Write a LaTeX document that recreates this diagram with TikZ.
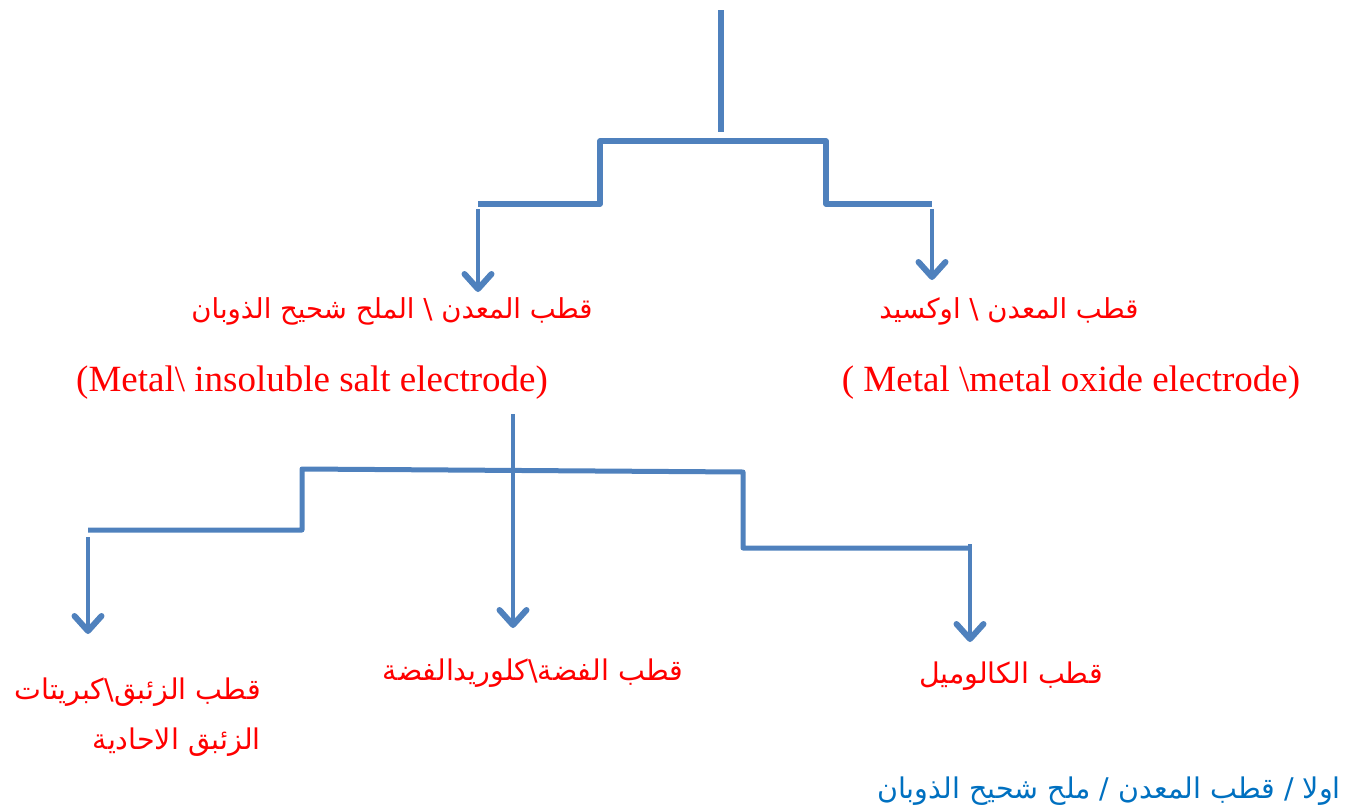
\documentclass[tikz,border=0pt]{standalone}
\usepackage{fontspec}
\setmainfont{Liberation Serif}
\newfontfamily\arabicfont[Script=Arabic]{DejaVu Sans}
\TeXXeTstate=1
\usetikzlibrary{arrows.meta}
\definecolor{lineblue}{RGB}{79,129,189}
\definecolor{txtred}{RGB}{255,0,0}
\definecolor{txtblue}{RGB}{0,112,192}
\begin{document}
\begin{tikzpicture}[x=1pt,y=-1pt,
  conn/.style={draw=lineblue,line width=5.5pt,line join=round},
  arr/.style={draw=lineblue,line width=4.5pt,-{Straight Barb[length=15pt,width=27pt,line width=6pt,round]}},
  arb/.style={text=txtred,inner sep=0pt,font=\arabicfont\fontsize{27.5}{50}\selectfont},
  arbl/.style={arb,font=\arabicfont\fontsize{28.5}{50}\selectfont},
  en/.style={text=txtred,inner sep=0pt,font=\fontsize{37}{44}\selectfont}]
\useasboundingbox (0,0) rectangle (1345,806);
% text nodes
\node[arb] (a1) at (392,311) {\beginR قطب المعدن \textbackslash{} الملح شحيح الذوبان\endR};
\node[en] (e1) at (312,383) {(Metal\textbackslash{} insoluble salt electrode)};
\node[arb] (a2) at (1009,311) {\beginR قطب المعدن \textbackslash{} اوكسيد\endR};
\node[en] (e2) at (1071,383) {( Metal \textbackslash metal oxide electrode)};
\node[arbl,align=right,anchor=north east] (a3) at (261,678) {\beginR قطب الزئبق\textbackslash كبريتات\endR\\\beginR الزئبق الاحادية\endR};
\node[arbl] (a4) at (533,673) {\beginR قطب الفضة\textbackslash كلوريدالفضة\endR};
\node[arbl] (a5) at (1011,676) {\beginR قطب الكالوميل\endR};
\node[arbl,text=txtblue,anchor=east] (t) at (1341,791) {\beginR اولا / قطب المعدن / ملح شحيح الذوبان\endR};
% upper tree
\coordinate (r0) at (721,10);
\coordinate (r1) at (721,132);
\coordinate (u1) at (478,204);
\coordinate (u2) at (600,204);
\coordinate (u3) at (600,141);
\coordinate (u4) at (826,141);
\coordinate (u5) at (826,204);
\coordinate (u6) at (932,204);
\coordinate (ua1) at (478,209);
\coordinate (ub1) at (478,292);
\coordinate (ua2) at (932,209);
\coordinate (ub2) at (932,280);
\draw[conn] (r0) -- (r1);
\draw[conn] (u1) -- (u2) -- (u3) -- (u4) -- (u5) -- (u6);
\draw[arr] (ua1) -- (ub1);
\draw[arr] (ua2) -- (ub2);
% lower tree
\coordinate (s0) at (513,414);
\coordinate (s1) at (513,468);
\coordinate (l1) at (88,530);
\coordinate (l2) at (302,530);
\coordinate (l3) at (302,469);
\coordinate (l4) at (743,472);
\coordinate (l5) at (743,548);
\coordinate (l6) at (971,548);
\coordinate (la1) at (88,537);
\coordinate (lb1) at (88,634);
\coordinate (la2) at (513,473);
\coordinate (lb2) at (513,628);
\coordinate (la3) at (970,544);
\coordinate (lb3) at (970,642);
\draw[conn,line width=4.5pt] (s0) -- (s1);
\draw[conn,line width=5pt] (l1) -- (l2) -- (l3) -- (l4) -- (l5) -- (l6);
\draw[arr] (la1) -- (lb1);
\draw[arr] (la2) -- (lb2);
\draw[arr] (la3) -- (lb3);
\end{tikzpicture}
\end{document}
